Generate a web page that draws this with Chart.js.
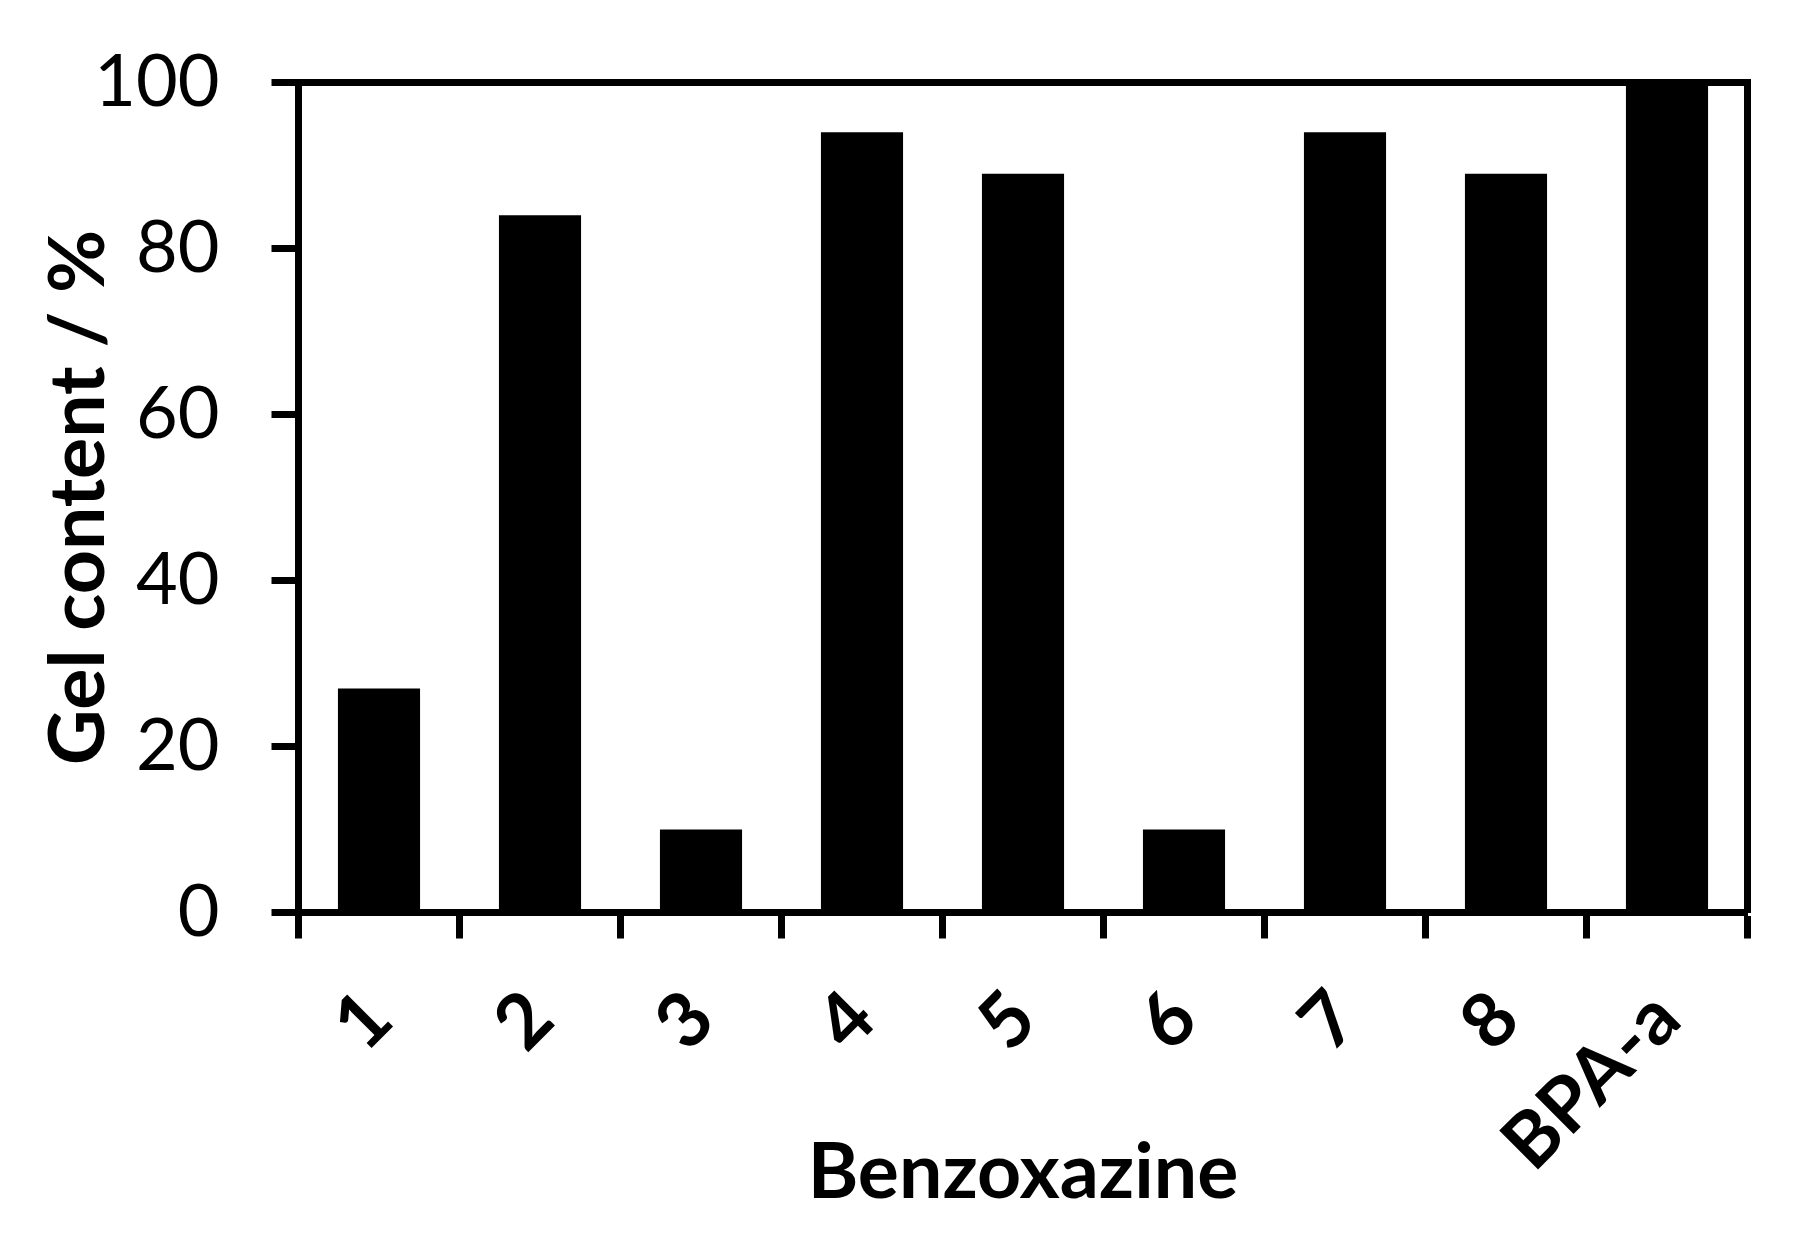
<!DOCTYPE html>
<html>
<head>
<meta charset="utf-8">
<title>Gel content</title>
<script src="https://cdn.jsdelivr.net/npm/chart.js@4/dist/chart.umd.min.js"></script>
<style>
    body { margin: 0; background: #ffffff; }
    #wrap { width: 1794px; height: 1244px; }
</style>
</head>
<body>
<div id="wrap"><canvas id="gel_chart" width="1794" height="1244"></canvas></div>
<script>
const categories = ['1', '2', '3', '4', '5', '6', '7', '8', 'BPA-a'];
const gel_values = [27, 84, 10, 94, 89, 10, 94, 89, 100];
const y_ticks = [0, 20, 40, 60, 80, 100];

document.addEventListener('DOMContentLoaded', docReady);

function docReady(){
    Chart.defaults.font.family = 'Lato';
    Chart.defaults.color = '#000000';
    initGelChart();
}

// fixed box sizes so the plot frame lands where the original one is
function fixBox(size, horizontal){
    return function(scale){
        if(horizontal){
            scale.height = size;
            scale.paddingLeft = 0;
            scale.paddingRight = 0;
        } else {
            scale.width = size;
            scale.paddingTop = 0;
            scale.paddingBottom = 0;
        }
    };
}

function initGelChart(){
    const ctx = document.getElementById('gel_chart').getContext('2d');
    var chart = new Chart(ctx, {
        type: 'bar',
        data: {
            labels: categories,
            datasets: [{
                label: 'Gel content',
                backgroundColor: '#000000',
                borderWidth: 0,
                data: gel_values,
                categoryPercentage: 1,
                barPercentage: 0.51
            }]
        },
        options: {
            responsive: false,
            animation: false,
            layout: { padding: 0 },
            plugins: {
                legend: { display: false },
                tooltip: { enabled: false }
            },
            scales: {
                x: {
                    position: 'bottom',
                    grid: { drawOnChartArea: false, tickLength: 26, tickWidth: 7, tickColor: '#000000' },
                    border: { color: '#000000', width: 7 },
                    ticks: {
                        autoSkip: false,
                        minRotation: 45,
                        maxRotation: 45,
                        padding: 35,
                        color: '#000000',
                        font: { size: 76, weight: 'bold' }
                    },
                    title: {
                        display: true,
                        text: 'Benzoxazine',
                        color: '#000000',
                        font: { size: 77, weight: 'bold' },
                        padding: { top: 0, bottom: 25 }
                    },
                    afterFit: fixBox(331.5, true)
                },
                x2: {
                    type: 'linear',
                    position: 'top',
                    min: 0,
                    max: 1,
                    grid: { drawOnChartArea: false, drawTicks: false },
                    border: { color: '#000000', width: 7 },
                    ticks: { display: false },
                    afterFit: fixBox(82.5, true)
                },
                y: {
                    position: 'left',
                    min: 0,
                    max: 100,
                    afterBuildTicks: function(scale){
                        scale.ticks = y_ticks.map(v => ({ value: v }));
                    },
                    grid: { drawOnChartArea: false, tickLength: 27, tickWidth: 7, tickColor: '#000000' },
                    border: { color: '#000000', width: 7 },
                    ticks: {
                        padding: 52,
                        color: '#000000',
                        font: { size: 72 }
                    },
                    title: {
                        display: true,
                        text: 'Gel content / %',
                        color: '#000000',
                        font: { size: 77, weight: 'bold' },
                        padding: { top: 33, bottom: 0 }
                    },
                    afterFit: fixBox(298.5, false)
                },
                y2: {
                    type: 'linear',
                    position: 'right',
                    min: 0,
                    max: 1,
                    grid: { drawOnChartArea: false, drawTicks: false },
                    border: { color: '#000000', width: 7 },
                    ticks: { display: false },
                    afterFit: fixBox(46.5, false)
                }
            }
        }
    });
}
</script>
</body>
</html>
